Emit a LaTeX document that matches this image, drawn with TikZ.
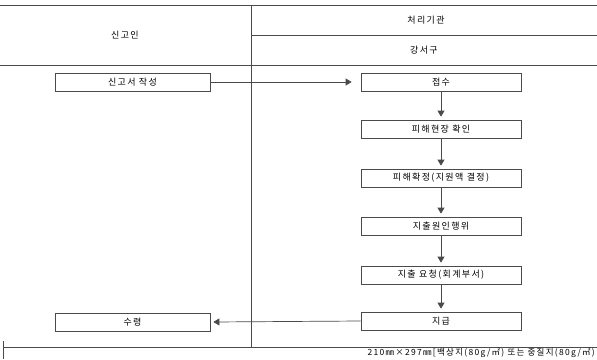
\documentclass[tikz,border=0pt]{standalone}
\usepackage{fontspec}
\usepackage{xcolor}
\usepackage{tikz}
\usetikzlibrary{arrows.meta,positioning}
\newfontfamily\kr[LetterSpace=15]{Noto Sans CJK KR}
\definecolor{ink}{HTML}{000000}
\definecolor{rule}{HTML}{4A4A4A}
\tikzset{
  rline/.style={draw=rule, line width=0.7pt},
  stepbox/.style={draw=rule, line width=0.7pt, minimum height=18pt, inner sep=0pt, text=ink, font=\kr\fontsize{9}{10}\selectfont},
  rbox/.style={stepbox, minimum width=160pt},
  lbox/.style={stepbox, minimum width=155pt},
  arr/.style={draw=rule, line width=0.7pt, -{Triangle[length=6pt,width=7pt]}},
  hlbl/.style={text=ink, font=\kr\fontsize{9}{10}\selectfont},
  foot/.style={text=ink, font=\kr\fontsize{8.5}{9}\selectfont, anchor=east, inner sep=0pt}
}

\begin{document}
\begin{tikzpicture}[x=1pt,y=-1pt]
  \useasboundingbox (0,0) rectangle (597,359);

  % table frame
  \coordinate (tl) at (0,5);
  \coordinate (tr) at (597,5);
  \coordinate (ml) at (0,65);
  \coordinate (mr) at (597,65);
  \coordinate (hl) at (251,35);
  \coordinate (hr) at (597,35);
  \coordinate (vt) at (251,5);
  \coordinate (vb) at (251,347);
  \coordinate (bl) at (3,347);
  \coordinate (br) at (597,347);
  \coordinate (kt) at (3,341);
  \coordinate (kb) at (3,359);

  \draw[rline] (tl)--(tr);
  \draw[rline] (ml)--(mr);
  \draw[rline] (hl)--(hr);
  \draw[rline] (vt)--(vb);
  \draw[rline] (bl)--(br);
  \draw[rline] (kt)--(kb);

  \node[hlbl] (applicant) at (125,35) {신고인};
  \node[hlbl] (agency) at (426,20) {처리기관};
  \node[hlbl] (district) at (424,50) {강서구};

  % steps
  \node[lbox] (write) at (132.5,82) {신고서 작성};
  \node[rbox] (receive) at (441,82) {접수};
  \node[rbox] (check) at (441,129) {피해현장 확인};
  \node[rbox] (decide) at (441,178) {피해확정(지원액 결정)};
  \node[rbox] (cause) at (441,226) {지출원인행위};
  \node[rbox] (request) at (441,275) {지출 요청(회계부서)};
  \node[rbox] (pay) at (441,321) {지급};
  \node[lbox] (take) at (132.5,322) {수령};

  \draw[arr] (write.east) -- ([xshift=-9pt]receive.west);
  \foreach \a/\b in {receive/check, check/decide, decide/cause, cause/request, request/pay}
    \draw[arr] (\a.south) -- ([yshift=3pt]\b.north);
  \draw[arr] (pay.west) -- ([xshift=3pt]take.east);

  \node[foot] (paper) at (595,353) {210㎜×297㎜[백상지(80g/㎡) 또는 중질지(80g/㎡)};
\end{tikzpicture}
\end{document}
